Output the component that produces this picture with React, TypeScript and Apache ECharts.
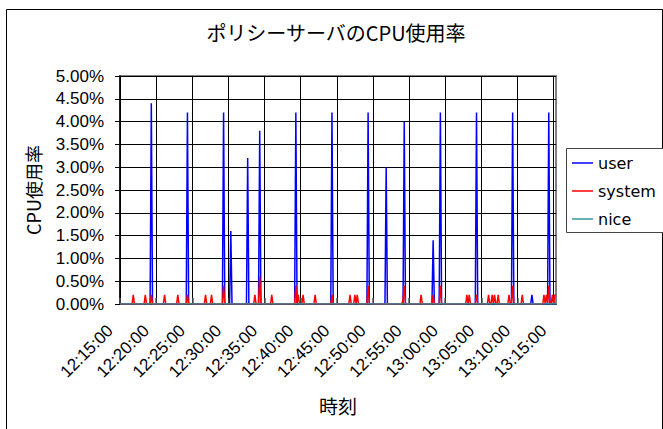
import React, { useEffect, useRef } from "react";
import * as echarts from "echarts";

const titleText = "ポリシーサーバのCPU使用率";
const yAxisName = "CPU使用率";
const xAxisName = "時刻";
const seriesNames = ["user", "system", "nice"];

// sample times every 10 s, 12:15:00 .. 13:15:20
const startTime = "12:15:00";
const stepSeconds = 10;
const sampleCount = 363;

// spikes: [time, percent]
const userSpikes: [string, number][] = [
  ["12:19:20", 4.4],
  ["12:24:20", 4.2],
  ["12:29:20", 4.2],
  ["12:30:20", 1.6],
  ["12:32:40", 3.2],
  ["12:34:20", 3.8],
  ["12:39:20", 4.2],
  ["12:44:20", 4.2],
  ["12:49:20", 4.2],
  ["12:51:50", 3.0],
  ["12:54:20", 4.0],
  ["12:58:20", 1.4],
  ["12:59:20", 4.2],
  ["13:04:20", 4.2],
  ["13:09:20", 4.2],
  ["13:12:00", 0.2],
  ["13:14:20", 4.2],
];

const systemSpikes: [string, number][] = [
  ["12:16:50", 0.2],
  ["12:18:30", 0.2],
  ["12:19:20", 0.2],
  ["12:21:10", 0.2],
  ["12:23:00", 0.2],
  ["12:24:20", 0.2],
  ["12:26:50", 0.2],
  ["12:27:40", 0.2],
  ["12:29:20", 0.4],
  ["12:33:40", 0.2],
  ["12:34:20", 0.6],
  ["12:36:00", 0.2],
  ["12:39:20", 0.4],
  ["12:39:40", 0.2],
  ["12:40:20", 0.2],
  ["12:42:00", 0.2],
  ["12:44:20", 0.2],
  ["12:46:50", 0.2],
  ["12:47:30", 0.2],
  ["12:47:50", 0.2],
  ["12:49:20", 0.4],
  ["12:54:10", 0.1],
  ["12:54:20", 0.4],
  ["12:56:40", 0.2],
  ["12:58:20", 0.2],
  ["12:59:20", 0.4],
  ["13:03:00", 0.2],
  ["13:03:20", 0.2],
  ["13:04:20", 0.2],
  ["13:06:00", 0.2],
  ["13:06:30", 0.2],
  ["13:06:50", 0.2],
  ["13:07:20", 0.2],
  ["13:08:50", 0.2],
  ["13:09:20", 0.4],
  ["13:10:40", 0.2],
  ["13:13:40", 0.2],
  ["13:14:00", 0.2],
  ["13:14:20", 0.4],
  ["13:14:50", 0.2],
  ["13:15:10", 0.2],
  ["13:15:20", 0.2],
];

const niceSpikes: [string, number][] = [];

function pad(n: number) {
  return n < 10 ? "0" + n : String(n);
}

function buildCategories(): string[] {
  const [h, m, s] = startTime.split(":").map(Number);
  const base = h * 3600 + m * 60 + s;
  const out: string[] = [];
  for (let i = 0; i < sampleCount; i++) {
    const t = base + i * stepSeconds;
    out.push(pad(Math.floor(t / 3600)) + ":" + pad(Math.floor((t % 3600) / 60)) + ":" + pad(t % 60));
  }
  return out;
}

function buildSeries(cats: string[], spikes: [string, number][]): number[] {
  const map = new Map(spikes);
  return cats.map((c) => map.get(c) ?? 0);
}

export default function App() {
  const ref = useRef<HTMLDivElement>(null);

  useEffect(() => {
    if (!ref.current) return;
    const chart = echarts.init(ref.current, null, { renderer: "svg" });
    const categories = buildCategories();
    const latin = "'Liberation Sans', Arial, sans-serif";
    const jp = "'Noto Sans CJK JP', sans-serif";

    chart.setOption({
      animation: false,
      backgroundColor: "#ffffff",
      graphic: [
        {
          type: "rect",
          shape: { x: 6.5, y: 9.5, width: 656, height: 440 },
          style: { fill: "none", stroke: "#000", lineWidth: 1 },
          z: -1,
        },
        {
          type: "rect",
          shape: { x: 566.5, y: 148.5, width: 100, height: 84 },
          style: { fill: "#fff", stroke: "#444", lineWidth: 1 },
          z: 1,
        },
        {
          type: "text",
          x: 336,
          y: 32,
          style: {
            text: titleText,
            font: `20px ${jp}`,
            fill: "#000",
            textAlign: "center",
            textVerticalAlign: "middle",
          },
        },
      ],
      legend: {
        orient: "vertical",
        left: 567,
        top: 149,
        itemWidth: 21,
        itemHeight: 1.5,
        itemGap: 10,
        icon: "rect",
        textStyle: { fontFamily: "'DejaVu Sans', sans-serif", fontSize: 16, color: "#000", lineHeight: 18 },
        data: seriesNames,
        z: 5,
      },
      grid: {
        left: 120,
        top: 76,
        width: 436,
        height: 228,
        show: true,
        borderColor: "#808080",
        borderWidth: 2,
      },
      xAxis: {
        type: "category",
        data: categories,
        boundaryGap: false,
        name: xAxisName,
        nameLocation: "middle",
        nameGap: 92,
        nameTextStyle: { fontFamily: jp, fontSize: 19, color: "#000" },
        axisLine: { lineStyle: { color: "#000", width: 1 } },
        axisTick: { show: true, inside: true, length: 6, interval: 29, lineStyle: { color: "#555", width: 1.5 } },
        axisLabel: {
          interval: 29,
          rotate: 45,
          margin: 14,
          padding: [0, 14, 0, 0],
          fontFamily: latin,
          fontSize: 17,
          color: "#000",
        },
        splitLine: { show: true, interval: 29, lineStyle: { color: "#000", width: 1 } },
      },
      yAxis: {
        type: "value",
        min: 0,
        max: 5,
        interval: 0.5,
        name: yAxisName,
        nameLocation: "middle",
        nameGap: 78,
        nameRotate: 90,
        nameTextStyle: { fontFamily: jp, fontSize: 18, color: "#000" },
        axisLine: { show: true, lineStyle: { color: "#000", width: 1.5 } },
        axisTick: { show: true, length: 5, lineStyle: { color: "#000" } },
        axisLabel: {
          margin: 16,
          fontFamily: latin,
          fontSize: 17,
          color: "#000",
          formatter: (v: number) => v.toFixed(2) + "%",
        },
        splitLine: { show: true, lineStyle: { color: "#000", width: 1 } },
      },
      series: [
        {
          name: seriesNames[0],
          type: "line",
          data: buildSeries(categories, userSpikes),
          symbol: "none",
          lineStyle: { color: "#0000ff", width: 1.5 },
          itemStyle: { color: "#0000ff" },
        },
        {
          name: seriesNames[1],
          type: "line",
          data: buildSeries(categories, systemSpikes),
          symbol: "none",
          lineStyle: { color: "#ff0000", width: 1.5 },
          itemStyle: { color: "#ff0000" },
        },
        {
          name: seriesNames[2],
          type: "line",
          data: buildSeries(categories, niceSpikes),
          symbol: "none",
          lineStyle: { color: "#339999", width: 1.5 },
          itemStyle: { color: "#339999" },
        },
      ],
    });

    return () => chart.dispose();
  }, []);

  return (
    <div
      ref={ref}
      style={{ position: "fixed", left: 0, top: 0, width: 663, height: 429 }}
    />
  );
}
